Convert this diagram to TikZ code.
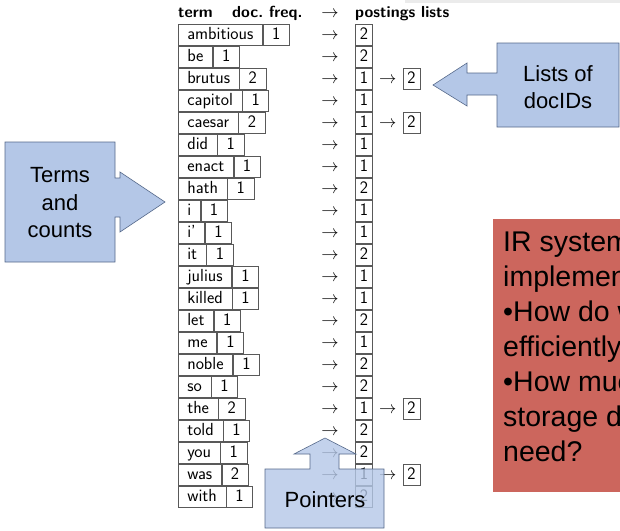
\documentclass[tikz,border=0pt]{standalone}
\usepackage{fontspec}
\newfontfamily\slidefont{Liberation Sans}
\usetikzlibrary{positioning}
\definecolor{calloutblue}{HTML}{B4C7E7}
\definecolor{calloutedge}{HTML}{56698A}
\definecolor{notered}{HTML}{CC665D}
\tikzset{
  cell/.style={font=\sffamily\fontsize{17.5}{20}\selectfont,
    text height=12pt, text depth=3.5pt, inner ysep=2.5pt},
  termbox/.style={cell, draw=black!65, line width=.6pt, inner xsep=9pt},
  postbox/.style={cell, draw=black!65, line width=.6pt, inner xsep=4.5pt},
  ptr/.style={cell, font=\sffamily\fontsize{16}{19}\selectfont, inner xsep=0pt},
  header/.style={cell, font=\sffamily\bfseries\fontsize{16}{19}\selectfont,
    inner xsep=0pt},
  callout/.style={fill=calloutblue, draw=calloutedge, line width=.6pt},
  calltext/.style={font=\slidefont\fontsize{22}{27.5}\selectfont, align=center}
}
\begin{document}
\begin{tikzpicture}[x=1pt,y=-1pt]
\clip (0,0) rectangle (620,530);
\fill[black!8] (405,0) rectangle (620,3);
\node[header,anchor=west] (hterm) at (178,13) {term};
\node[header,anchor=west] (hfreq) at (232,13) {doc.\ freq.};
\node[ptr] (harr) at (330,13) {$\rightarrow$};
\node[header,anchor=west] (hpost) at (355,13) {postings lists};
\foreach \t/\f/\p/\q [count=\i] in {ambitious/1/2/0, be/1/2/0, brutus/2/1/2,
  capitol/1/1/0, caesar/2/1/2, did/1/1/0, enact/1/1/0, hath/1/2/0, i/1/1/0,
  i'/1/1/0, it/1/2/0, julius/1/1/0, killed/1/1/0, let/1/2/0, me/1/1/0,
  noble/1/2/0, so/1/2/0, the/2/1/2, told/1/2/0, you/1/2/0, was/2/1/2,
  with/1/2/0}{
  \node[termbox,anchor=west] (t\i) at (178,{13+22*\i}) {\t};
  \node[termbox,right=0pt of t\i] (f\i) {\f};
  \node[ptr] (a\i) at (330,{13+22*\i}) {$\rightarrow$};
  \node[postbox] (p\i) at (364,{13+22*\i}) {\p};
  \ifnum\q>0
    \node[ptr,right=6pt of p\i] (b\i) {$\rightarrow$};
    \node[postbox,right=6pt of b\i] (q\i) {\q};
  \fi
}
% callouts
\draw[callout] (5,142) -- (115,142) -- (115,178) -- (120,178) -- (120,172)
  -- (165,202) -- (120,232) -- (120,217) -- (115,217) -- (115,262)
  -- (5,262) -- cycle;
\node[calltext] (terms) at (60,203) {Terms\\and\\counts};
\draw[callout] (619,43) -- (497,43) -- (497,73) -- (467,73) -- (467,63)
  -- (433,85) -- (467,106) -- (467,95) -- (497,95) -- (497,127)
  -- (619,127) -- cycle;
\node[calltext] (lists) at (558,87) {Lists of\\docIDs};
\draw[callout,fill opacity=.8] (265,528) -- (265,469) -- (310,469)
  -- (310,454) -- (294,454) -- (325,438) -- (356,454) -- (339,454)
  -- (339,469) -- (384,469) -- (384,528) -- cycle;
\node[calltext] (pointers) at (325,500) {Pointers};
\fill[notered] (493,219) rectangle (625,492);
\node[anchor=north west,inner sep=0pt,align=left,
  font=\slidefont\fontsize{28.5}{35}\selectfont] (questions) at (503,232)
  {IR system\\implementation\\\textbullet How do we index\\efficiently?\\
   \textbullet How much\\storage do we\\need?};
\end{tikzpicture}
\end{document}
